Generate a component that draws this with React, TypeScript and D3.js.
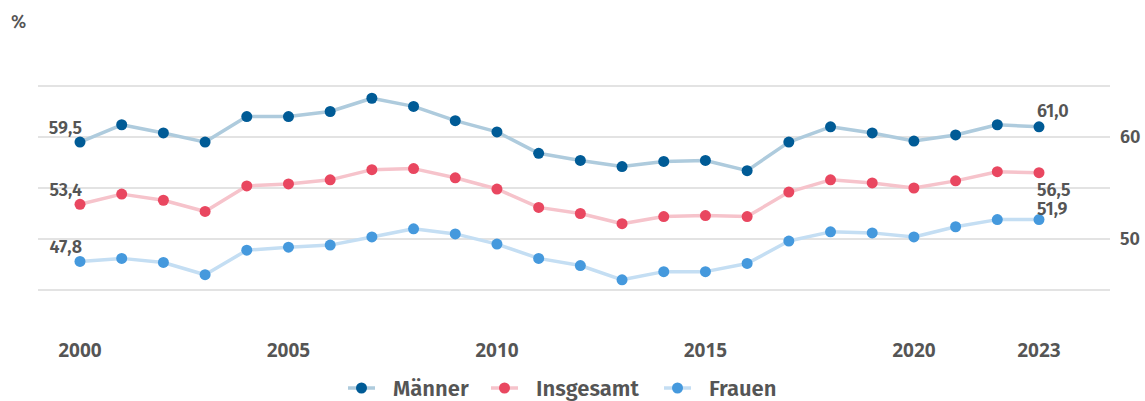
import { useEffect, useRef } from "react";
import * as d3 from "d3";

const years = d3.range(2000, 2024);
const maenner = [59.5, 61.2, 60.4, 59.5, 62.0, 62.0, 62.5, 63.8, 63.0, 61.6, 60.5, 58.4, 57.7, 57.1, 57.6, 57.7, 56.7, 59.5, 61.0, 60.4, 59.6, 60.2, 61.2, 61.0];
const insgesamt = [53.4, 54.4, 53.8, 52.7, 55.2, 55.4, 55.8, 56.8, 56.9, 56.0, 54.9, 53.1, 52.5, 51.5, 52.2, 52.3, 52.2, 54.6, 55.8, 55.5, 55.0, 55.7, 56.6, 56.5];
const frauen = [47.8, 48.1, 47.7, 46.5, 48.9, 49.2, 49.4, 50.2, 51.0, 50.5, 49.5, 48.1, 47.4, 46.0, 46.8, 46.8, 47.6, 49.8, 50.7, 50.6, 50.2, 51.2, 51.9, 51.9];
const xTickYears = [2000, 2005, 2010, 2015, 2020, 2023];
const gridValues = [45, 50, 55, 60, 65];
const yTickLabels = [50, 60];

const seriesList = [
  { name: "Männer", values: maenner, dot: "#005b96", line: "#aecbdd" },
  { name: "Insgesamt", values: insgesamt, dot: "#e94760", line: "#f6c3cb" },
  { name: "Frauen", values: frauen, dot: "#4599dd", line: "#c4def3" },
];

const fmt = (v: number) => v.toFixed(1).replace(".", ",");

export default function App() {
  const ref = useRef<SVGSVGElement>(null);

  useEffect(() => {
    const svg = d3.select(ref.current);
    svg.selectAll("*").remove();
    const font = "'Fira Sans', 'Noto Sans', sans-serif";
    const narrow = "'Liberation Sans Narrow', 'Noto Sans', sans-serif";

    const x = d3.scaleLinear().domain([2000, 2023]).range([80, 1039]);
    const y = d3.scaleLinear().domain([50, 60]).range([239, 137]);

    svg.append("text").attr("x", 11).attr("y", 28).attr("fill", "#555")
      .style("font", `500 18px ${font}`).text("%");

    // grid
    svg.append("g").selectAll("line").data(gridValues).enter().append("line")
      .attr("x1", 38).attr("x2", 1110)
      .attr("y1", (d) => y(d)).attr("y2", (d) => y(d))
      .attr("stroke", "#c8c8c8").attr("stroke-width", 1.2);

    svg.append("g").selectAll("text").data(yTickLabels).enter().append("text")
      .attr("x", 1120).attr("y", (d) => y(d)).attr("dy", "0.35em")
      .attr("fill", "#555").style("font", `600 18px ${font}`)
      .text((d) => d);

    svg.append("g").selectAll("text").data(xTickYears).enter().append("text")
      .attr("x", (d) => x(d)).attr("y", 357).attr("text-anchor", "middle")
      .attr("fill", "#555").style("font", `700 19px ${narrow}`)
      .text((d) => d);

    const line = d3.line<number>().x((_, i) => x(years[i])).y((d) => y(d));

    seriesList.forEach((s) => {
      svg.append("path").datum(s.values).attr("d", line)
        .attr("fill", "none").attr("stroke", s.line).attr("stroke-width", 3.5)
        .attr("stroke-linejoin", "round");
      svg.append("g").selectAll("circle").data(s.values).enter().append("circle")
        .attr("cx", (_, i) => x(years[i])).attr("cy", (d) => y(d))
        .attr("r", 5.5).attr("fill", s.dot);
    });

    const labelStyle = `600 18px ${font}`;
    // start labels
    seriesList.forEach((s) => {
      svg.append("text").attr("x", x(2000) + 2).attr("y", y(s.values[0]) - 8)
        .attr("text-anchor", "end").attr("fill", "#555").style("font", labelStyle)
        .text(fmt(s.values[0]));
    });
    // end labels
    const last = (a: number[]) => a[a.length - 1];
    svg.append("text").attr("x", x(2023) - 2).attr("y", y(last(maenner)) - 10)
      .attr("fill", "#555").style("font", labelStyle).text(fmt(last(maenner)));
    svg.append("text").attr("x", x(2023) - 2).attr("y", y(last(insgesamt)) + 23)
      .attr("fill", "#555").style("font", labelStyle).text(fmt(last(insgesamt)));
    svg.append("text").attr("x", x(2023) - 2).attr("y", y(last(frauen)) - 5)
      .attr("fill", "#555").style("font", labelStyle).text(fmt(last(frauen)));

    // legend
    const legendX = [348, 491, 664];
    const lg = svg.append("g");
    seriesList.forEach((s, i) => {
      const lx = legendX[i];
      lg.append("line").attr("x1", lx).attr("x2", lx + 27).attr("y1", 388).attr("y2", 388)
        .attr("stroke", s.line).attr("stroke-width", 3.5);
      lg.append("circle").attr("cx", lx + 13.5).attr("cy", 388).attr("r", 5.5).attr("fill", s.dot);
      lg.append("text").attr("x", lx + 45).attr("y", 388).attr("dy", "0.36em")
        .attr("fill", "#555").style("font", `600 22px ${font}`).text(s.name);
    });
  }, []);

  return (
    <svg ref={ref} width={1145} height={401}
      style={{ position: "absolute", left: 0, top: 0, background: "#fff" }} />
  );
}
